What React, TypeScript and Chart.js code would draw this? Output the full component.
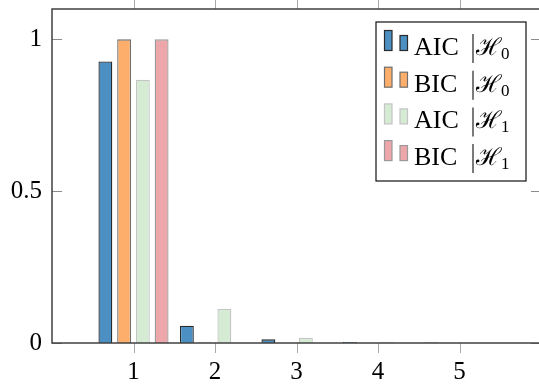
import React, { useEffect, useRef } from "react";
import { Chart, registerables } from "chart.js";

Chart.register(...registerables);

const categories = ["0", "1", "2", "3", "4", "5", "6"];
const aicH0 = [null, 0.927, 0.057, 0.012, 0.003, 0.002, null];
const bicH0 = [null, 1.0, 0.002, 0, 0, 0, null];
const aicH1 = [null, 0.867, 0.112, 0.017, 0.004, 0, null];
const bicH1 = [null, 1.0, 0, 0, 0, 0, null];
const yTicks = [0, 0.5, 1];
const xTickLabels = ["1", "2", "3", "4", "5"];

const seriesNames = ["AIC", "BIC", "AIC", "BIC"];
const seriesSubs = ["0", "0", "1", "1"];
const fills = ["#4b8fc3", "#fdae6b", "#d5ebd4", "#eda6a9"];
const borders = ["#2a2a2a", "#6e6e6e", "#c4c4c4", "#9a9a9a"];

const FONT = "'Liberation Serif', 'DejaVu Serif', serif";

const framePlugin = {
  id: "pgfFrame",
  afterDatasetsDraw(chart: any) {
    const ctx = chart.ctx;
    const { left, right, top, bottom } = chart.chartArea;
    const xs = chart.scales.x;
    const ys = chart.scales.y;
    ctx.save();
    // y ticks (inside, both sides)
    ctx.strokeStyle = "#8c8c8c";
    ctx.lineWidth = 1;
    yTicks.forEach((v) => {
      const py = Math.round(ys.getPixelForValue(v)) + 0.5;
      ctx.beginPath();
      ctx.moveTo(left, py);
      ctx.lineTo(left + 10, py);
      ctx.moveTo(right, py);
      ctx.lineTo(right - 10, py);
      ctx.stroke();
    });
    // x ticks (outside, both sides)
    ctx.strokeStyle = "#a8a8a8";
    xTickLabels.forEach((lab) => {
      const px = Math.round(xs.getPixelForValue(categories.indexOf(lab))) + 0.5;
      ctx.beginPath();
      ctx.moveTo(px, bottom);
      ctx.lineTo(px, bottom + 10);
      ctx.moveTo(px, top);
      ctx.lineTo(px, top - 10);
      ctx.stroke();
    });
    // frame
    ctx.strokeStyle = "#404040";
    ctx.lineWidth = 1.5;
    ctx.strokeRect(left, top, right - left, bottom - top);

    // legend
    const lx = 376, ly = 22, lw = 150, lh = 159;
    ctx.fillStyle = "#ffffff";
    ctx.fillRect(lx, ly, lw, lh);
    ctx.strokeStyle = "#111";
    ctx.lineWidth = 1.2;
    ctx.strokeRect(lx, ly, lw, lh);
    for (let i = 0; i < 4; i++) {
      const base = 55 + i * 36.7;
      const ib = base - 4.5;
      ctx.fillStyle = fills[i];
      ctx.strokeStyle = borders[i];
      ctx.lineWidth = 1.2;
      ctx.fillRect(384.5, ib - 20, 7.5, 20);
      ctx.strokeRect(384.5, ib - 20, 7.5, 20);
      ctx.fillRect(400, ib - 15, 7.5, 15);
      ctx.strokeRect(400, ib - 15, 7.5, 15);
      ctx.fillStyle = "#000";
      ctx.textBaseline = "alphabetic";
      ctx.textAlign = "left";
      ctx.font = "26px " + FONT;
      ctx.fillText(seriesNames[i], 414, base);
      ctx.strokeStyle = "#222";
      ctx.lineWidth = 1.2;
      ctx.beginPath();
      ctx.moveTo(473, base - 21);
      ctx.lineTo(473, base + 8);
      ctx.stroke();
      ctx.font = "24px 'DejaVu Serif', serif";
      ctx.fillText("\u210B", 476, base);
      ctx.font = "17px " + FONT;
      ctx.fillText(seriesSubs[i], 501, base + 4);
    }
    ctx.restore();
  },
};

export default function App() {
  const ref = useRef<HTMLCanvasElement | null>(null);
  useEffect(() => {
    if (!ref.current) return;
    const mk = (i: number, data: any[]) => ({
      label: seriesNames[i] + " H" + seriesSubs[i],
      data,
      backgroundColor: fills[i],
      borderColor: borders[i],
      borderWidth: 1.3,
      categoryPercentage: 0.92,
      barPercentage: 0.74,
    });
    const chart = new Chart(ref.current, {
      type: "bar",
      data: {
        labels: categories,
        datasets: [mk(0, aicH0), mk(1, bicH0), mk(2, aicH1), mk(3, bicH1)],
      },
      options: {
        animation: false,
        responsive: true,
        maintainAspectRatio: false,
        layout: { padding: { top: 9, right: 0, left: 0, bottom: 0 } },
        plugins: { legend: { display: false }, tooltip: { enabled: false } },
        scales: {
          x: {
            type: "category",
            offset: false,
            grid: { display: false, drawTicks: false },
            border: { display: false },
            ticks: {
              autoSkip: false,
              maxRotation: 0,
              padding: 14,
              color: "#000",
              font: { family: FONT, size: 25 },
              callback: (v: any, i: number) =>
                xTickLabels.includes(categories[i]) ? categories[i] : "",
            },
            afterFit: (s: any) => {
              s.height = 44;
              s.paddingLeft = 0;
              s.paddingRight = 0;
            },
          },
          y: {
            min: 0,
            max: 1.1,
            grid: { display: false, drawTicks: false },
            border: { display: false },
            afterBuildTicks: (s: any) => {
              s.ticks = yTicks.map((v) => ({ value: v }));
            },
            ticks: {
              padding: 10,
              color: "#000",
              font: { family: FONT, size: 25 },
              callback: (v: any) => String(v),
            },
            afterFit: (s: any) => {
              s.width = 52;
              s.paddingTop = 0;
              s.paddingBottom = 0;
            },
          },
        },
      },
      plugins: [framePlugin],
    });
    return () => chart.destroy();
  }, []);
  return (
    <div style={{ position: "fixed", left: 0, top: 0, width: 539, height: 387, overflow: "hidden", background: "#fff" }}>
      <div style={{ position: "absolute", left: 0, top: 0, width: 541, height: 387 }}>
        <canvas ref={ref} />
      </div>
    </div>
  );
}
